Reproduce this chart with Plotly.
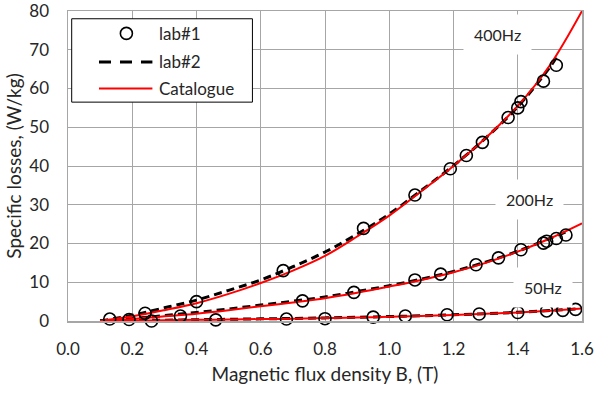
import plotly.graph_objects as go

# ---- data ----
lab1_400_B = [0.13, 0.24, 0.40, 0.67, 0.92, 1.08, 1.19, 1.24, 1.29, 1.37, 1.40, 1.41, 1.48, 1.52]
lab1_400_P = [0.5, 2.0, 5.0, 13.0, 23.9, 32.5, 39.3, 42.7, 46.1, 52.5, 55.0, 56.6, 61.9, 66.0]
lab1_200_B = [0.19, 0.35, 0.73, 0.89, 1.08, 1.16, 1.27, 1.34, 1.41, 1.48, 1.49, 1.52, 1.55]
lab1_200_P = [0.4, 1.3, 5.2, 7.4, 10.6, 12.1, 14.5, 16.3, 18.4, 20.1, 20.6, 21.3, 22.2]
lab1_50_B = [0.26, 0.46, 0.68, 0.80, 0.95, 1.05, 1.18, 1.28, 1.40, 1.49, 1.54, 1.58]
lab1_50_P = [0.0, 0.3, 0.5, 0.6, 1.0, 1.3, 1.6, 1.8, 2.2, 2.6, 2.75, 3.0]

curve_B = [0.1, 0.2, 0.3, 0.4, 0.5, 0.6, 0.7, 0.8, 0.9, 1.0, 1.1, 1.2, 1.3, 1.4, 1.5, 1.6]
cat_400 = [0, 1.2, 2.8, 4.6, 7.0, 9.8, 13.0, 16.8, 21.8, 27.2, 33.5, 40.0, 47.2, 55.5, 66.0, 80.0]
cat_200 = [0, 0.5, 1.2, 1.9, 2.8, 3.8, 4.8, 5.9, 7.3, 8.9, 10.6, 12.6, 15.0, 17.9, 21.3, 25.2]
cat_50 = [0, 0.1, 0.2, 0.3, 0.4, 0.5, 0.6, 0.75, 0.9, 1.1, 1.3, 1.55, 1.85, 2.2, 2.65, 3.2]

lab2_400_B = [0.1, 0.2, 0.3, 0.4, 0.5, 0.6, 0.7, 0.8, 0.9, 1.0, 1.1, 1.2, 1.3, 1.4, 1.5, 1.52]
lab2_400 = [0, 1.5, 3.4, 5.4, 7.9, 10.6, 14.0, 17.8, 22.4, 27.6, 33.7, 40.1, 47.2, 55.3, 65.5, 68.0]
lab2_200_B = [0.1, 0.2, 0.3, 0.4, 0.5, 0.6, 0.7, 0.8, 0.9, 1.0, 1.1, 1.2, 1.3, 1.4, 1.5, 1.55]
lab2_200 = [0, 0.6, 1.4, 2.2, 3.1, 4.1, 5.1, 6.2, 7.6, 9.1, 10.8, 12.8, 15.2, 18.0, 21.3, 23.0]
lab2_50_B = [0.1, 0.2, 0.3, 0.4, 0.5, 0.6, 0.7, 0.8, 0.9, 1.0, 1.1, 1.2, 1.3, 1.4, 1.5, 1.58]
lab2_50 = [0, 0.12, 0.22, 0.33, 0.44, 0.55, 0.66, 0.8, 0.95, 1.15, 1.35, 1.6, 1.9, 2.25, 2.7, 3.1]

freq_labels = ["400Hz", "200Hz", "50Hz"]
freq_label_B = [1.336, 1.438, 1.479]
freq_label_P = [74.0, 31.3, 8.7]

x_ticks = [0.0, 0.2, 0.4, 0.6, 0.8, 1.0, 1.2, 1.4, 1.6]
y_ticks = [0, 10, 20, 30, 40, 50, 60, 70, 80]

FONT = "Lato"
TXT = "#262626"
GRID = "#a6a6a6"

fig = go.Figure()

for bx, py in [(lab2_400_B, lab2_400), (lab2_200_B, lab2_200), (lab2_50_B, lab2_50)]:
    fig.add_trace(go.Scatter(x=bx, y=py, mode="lines", line=dict(color="black", width=3, dash="8px,5px", shape="spline"),
                             showlegend=False, cliponaxis=False, hoverinfo="skip"))
for py in [cat_400, cat_200, cat_50]:
    fig.add_trace(go.Scatter(x=curve_B, y=py, mode="lines", line=dict(color="#ff0000", width=2, shape="spline"),
                             showlegend=False, cliponaxis=False, hoverinfo="skip"))
for bx, py in [(lab1_400_B, lab1_400_P), (lab1_200_B, lab1_200_P), (lab1_50_B, lab1_50_P)]:
    fig.add_trace(go.Scatter(x=bx, y=py, mode="markers",
                             marker=dict(symbol="circle-open", size=12, color="black", line=dict(width=1.6, color="black")),
                             showlegend=False, cliponaxis=False))

for t, bx, py in zip(freq_labels, freq_label_B, freq_label_P):
    fig.add_annotation(x=bx, y=py, text=t, showarrow=False, bgcolor="white", borderpad=10,
                       font=dict(family=FONT, size=16, color=TXT))

# manual legend (box, symbols, text) in paper coordinates
fig.add_shape(type="rect", xref="paper", yref="paper", x0=0.0072, x1=0.3588, y0=0.706, y1=0.975,
              line=dict(color="black", width=1), fillcolor="white", layer="above")
fig.add_shape(type="circle", xref="paper", yref="paper", xsizemode="pixel", ysizemode="pixel",
              xanchor=0.1136, yanchor=0.9277, x0=-6, x1=6, y0=-6, y1=6,
              line=dict(color="black", width=1.6), layer="above")
fig.add_shape(type="line", xref="paper", yref="paper", x0=0.0603, x1=0.1642, y0=0.8355, y1=0.8355,
              line=dict(color="black", width=3, dash="12px,9px"), layer="above")
fig.add_shape(type="line", xref="paper", yref="paper", x0=0.0603, x1=0.1642, y0=0.75, y1=0.75,
              line=dict(color="#ff0000", width=2), layer="above")
for txt, yy in [("lab#1", 0.928), ("lab#2", 0.838), ("Catalogue", 0.75)]:
    fig.add_annotation(xref="paper", yref="paper", x=0.174, y=yy, text=txt, showarrow=False,
                       xanchor="left", yanchor="middle", font=dict(family=FONT, size=17, color=TXT))

fig.update_xaxes(range=[0, 1.6], tickvals=x_ticks, ticktext=[f"{v:.1f}" for v in x_ticks],
                 showgrid=True, gridcolor=GRID, gridwidth=1, showline=True, linecolor=GRID, linewidth=1.5,
                 mirror=True, zeroline=False, ticks="", ticklabelstandoff=12, automargin=False,
                 ticklabeloverflow="allow",
                 tickfont=dict(family=FONT, size=17, color=TXT),
                 title=dict(text="Magnetic flux density B, (T)", font=dict(family=FONT, size=19, color=TXT), standoff=10))
fig.update_yaxes(range=[0, 80], tickvals=y_ticks, ticktext=[str(v) for v in y_ticks],
                 showgrid=True, gridcolor=GRID, gridwidth=1, showline=True, linecolor=GRID, linewidth=1.5,
                 mirror=True, zeroline=False, ticks="", ticklabelstandoff=14, automargin=False,
                 ticklabeloverflow="allow",
                 tickfont=dict(family=FONT, size=17, color=TXT),
                 title=dict(text="Specific losses, (W/kg)", font=dict(family=FONT, size=19, color=TXT), standoff=2))

fig.update_layout(width=595, height=394, margin=dict(l=68, r=13, t=11, b=73),
                  plot_bgcolor="white", paper_bgcolor="white", showlegend=False,
                  font=dict(family=FONT, color=TXT))

fig.write_html("out.html", config={"displayModeBar": False, "staticPlot": True},
               post_script="document.body.style.margin='0';document.body.style.overflow='hidden';")
